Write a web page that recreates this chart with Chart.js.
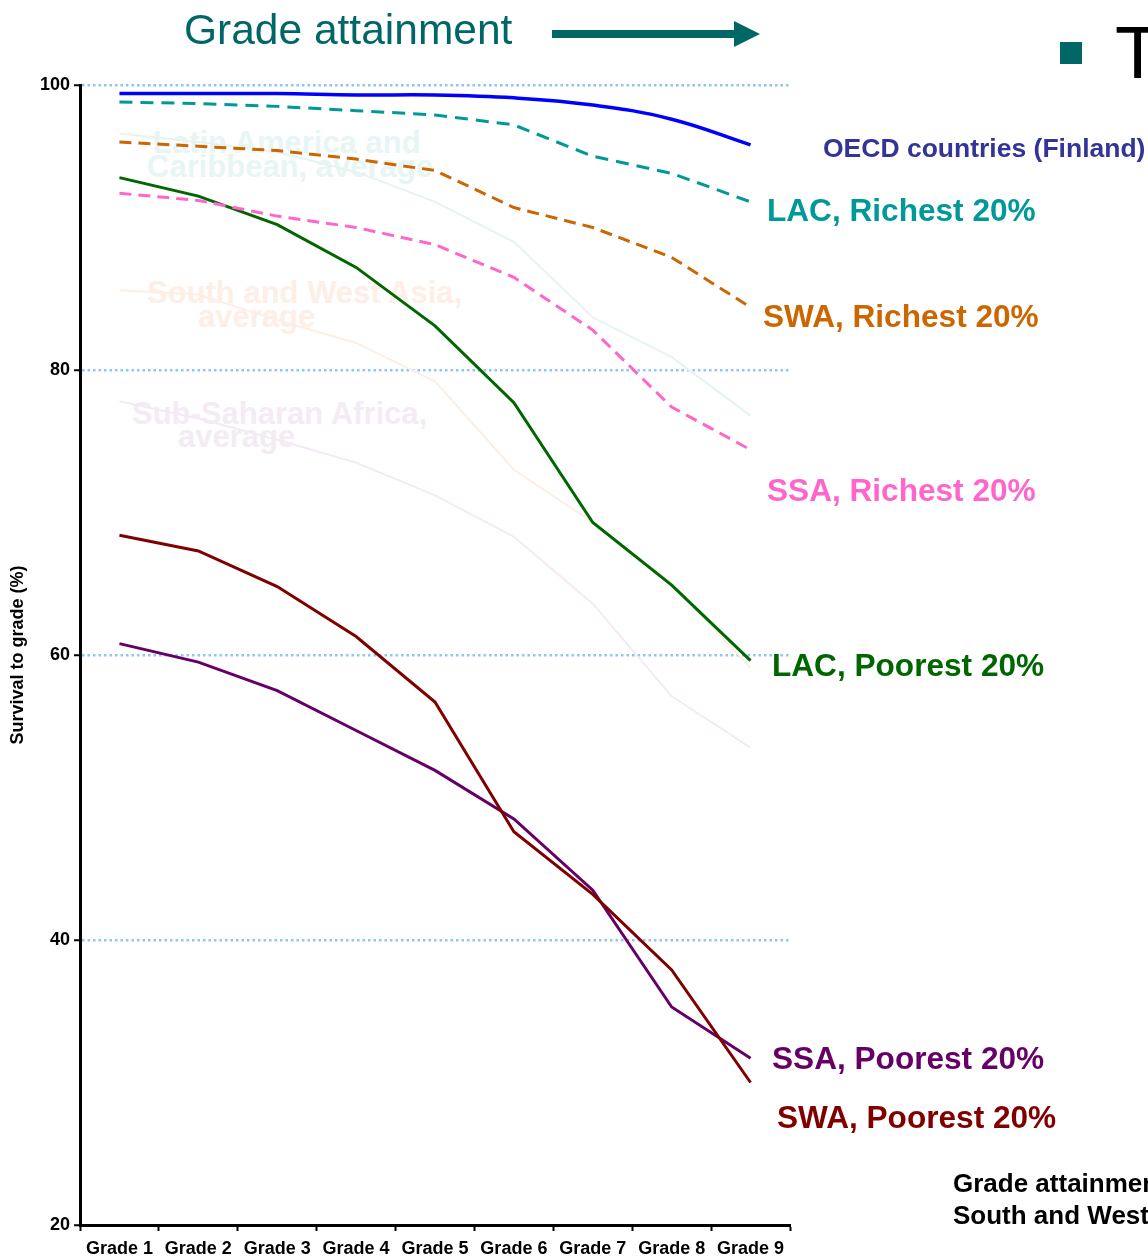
<!DOCTYPE html>
<html>
<head>
<meta charset="utf-8">
<script src="https://cdn.jsdelivr.net/npm/chart.js@4/dist/chart.umd.min.js"></script>
<style>
  body { margin: 0; background: #fff; overflow: hidden; }
  #wrap { position: relative; width: 1148px; height: 1260px; overflow: hidden; font-family: "Liberation Sans", Arial, sans-serif; }
  #chart { position: absolute; left: 0; top: 0; z-index: 2; }
  .lbl { position: absolute; white-space: nowrap; line-height: 1; font-weight: bold; }
  .back { z-index: 1; font-size: 31px; }
  .front { z-index: 3; font-size: 31.6px; }
</style>
</head>
<body>
<div id="wrap">
  <!-- faint average labels sit behind the canvas -->
  <div class="lbl back" style="left:153px;top:127px;color:#e8f5f5">Latin America and</div>
  <div class="lbl back" style="left:147px;top:151px;color:#e8f5f5">Caribbean, average</div>
  <div class="lbl back" style="left:147px;top:277px;color:#fdeee6">South and West Asia,</div>
  <div class="lbl back" style="left:198px;top:301px;color:#fdeee6">average</div>
  <div class="lbl back" style="left:132px;top:398px;color:#f5ebf5">Sub-Saharan Africa,</div>
  <div class="lbl back" style="left:178px;top:421px;color:#f5ebf5">average</div>

  <canvas id="chart" width="1148" height="1260"></canvas>

  <!-- heading and arrow -->
  <div class="lbl" style="z-index:3;left:184px;top:9px;font-size:42.5px;font-weight:normal;color:#006666">Grade attainment</div>
  <svg style="position:absolute;left:540px;top:15px;z-index:3" width="230" height="40">
    <rect x="12" y="15" width="186" height="8" fill="#006666"></rect>
    <polygon points="194,6 220,19 194,32" fill="#006666"></polygon>
  </svg>
  <div style="position:absolute;left:1060px;top:42px;width:22px;height:22px;background:#006666;z-index:3"></div>
  <div class="lbl" style="z-index:3;left:1115px;top:16px;font-size:74px;font-weight:normal;color:#000">T</div>

  <!-- series labels -->
  <div class="lbl front" style="left:823px;top:135px;font-size:26.5px;color:#333399">OECD countries (Finland)</div>
  <div class="lbl front" style="left:767px;top:195px;color:#009999">LAC, Richest 20%</div>
  <div class="lbl front" style="left:763px;top:301px;color:#cc6600">SWA, Richest 20%</div>
  <div class="lbl front" style="left:767px;top:475px;color:#ff66cc">SSA, Richest 20%</div>
  <div class="lbl front" style="left:772px;top:650px;color:#006600">LAC, Poorest 20%</div>
  <div class="lbl front" style="left:772px;top:1043px;color:#660066">SSA, Poorest 20%</div>
  <div class="lbl front" style="left:777px;top:1102px;color:#800000">SWA, Poorest 20%</div>

  <div class="lbl front" style="left:953px;top:1170px;font-size:26px;color:#000">Grade attainment</div>
  <div class="lbl front" style="left:953px;top:1202px;font-size:26px;color:#000">South and West Asia</div>
</div>

<script>
// categories
const grades = ['Grade 1', 'Grade 2', 'Grade 3', 'Grade 4', 'Grade 5', 'Grade 6', 'Grade 7', 'Grade 8', 'Grade 9'];
const yTicks = [20, 40, 60, 80, 100];

// survival to grade (%)
const oecdFinland = [99.4, 99.4, 99.4, 99.3, 99.3, 99.1, 98.6, 97.6, 95.8];
const lacRichest  = [98.8, 98.7, 98.5, 98.2, 97.9, 97.2, 95.0, 93.8, 91.8];
const swaRichest  = [96.0, 95.7, 95.4, 94.8, 94.0, 91.4, 90.0, 87.9, 84.4];
const ssaRichest  = [92.4, 91.9, 90.8, 90.0, 88.8, 86.5, 82.8, 77.4, 74.4];
const lacPoorest  = [93.5, 92.2, 90.2, 87.2, 83.1, 77.7, 69.3, 64.9, 59.6];
const swaPoorest  = [68.4, 67.3, 64.8, 61.3, 56.7, 47.6, 43.2, 37.9, 30.0];
const ssaPoorest  = [60.8, 59.5, 57.5, 54.7, 51.9, 48.5, 43.5, 35.3, 31.7];

// faded regional averages
const lacAverage  = [96.6, 96.0, 95.3, 93.9, 91.8, 89.0, 83.7, 80.9, 76.8];
const swaAverage  = [85.6, 85.3, 83.5, 81.9, 79.2, 73.0, 69.3, 65.0, 59.1];
const ssaAverage  = [77.8, 76.6, 75.1, 73.5, 71.2, 68.3, 63.6, 57.1, 53.5];

function line(data, color, width, dash, extra) {
    return Object.assign({
        data: data,
        borderColor: color,
        borderWidth: width,
        borderDash: dash || [],
        pointRadius: 0,
        fill: false,
        tension: 0,
        order: 1
    }, extra || {});
}

const boldFont = { family: '"Liberation Sans", Arial, sans-serif', weight: 'bold', size: 18 };

new Chart(document.getElementById('chart'), {
    type: 'line',
    data: {
        labels: grades,
        datasets: [
            line(lacAverage, '#e6f3f3', 2, null, { order: 2 }),
            line(swaAverage, '#fdeee4', 2, null, { order: 2 }),
            line(ssaAverage, '#f4e9f4', 2, null, { order: 2 }),
            line(oecdFinland, '#0000ff', 3.5, null, { tension: 0.4 }),
            line(lacRichest, '#009999', 3, [13, 8]),
            line(swaRichest, '#cc6600', 3, [12, 7]),
            line(ssaRichest, '#ff66cc', 3, [12, 7]),
            line(lacPoorest, '#006600', 3),
            line(swaPoorest, '#800000', 3),
            line(ssaPoorest, '#660066', 3)
        ]
    },
    options: {
        responsive: false,
        animation: false,
        layout: { padding: { left: 0, right: 358, top: 85, bottom: 0 } },
        plugins: { legend: { display: false }, tooltip: { enabled: false } },
        scales: {
            x: {
                offset: true,
                grid: { offset: true, drawOnChartArea: false, drawTicks: true, tickLength: 6, tickColor: '#000', tickWidth: 2 },
                border: { display: true, color: '#000', width: 3 },
                ticks: { color: '#000', font: boldFont, padding: 7, maxRotation: 0, autoSkip: false },
                afterFit: (s) => { s.height = 35; }
            },
            y: {
                min: 20,
                max: 100,
                afterBuildTicks: (s) => { s.ticks = yTicks.map(v => ({ value: v })); },
                grid: { color: '#8cc4fb', lineWidth: 2.5, tickLength: 6, tickColor: '#000', tickWidth: 2 },
                border: { display: true, color: '#000', width: 3, dash: [2.5, 3] },
                ticks: { color: '#000', font: boldFont, padding: 4 },
                title: { display: true, text: 'Survival to grade (%)', color: '#000', font: boldFont, padding: { top: 7, bottom: 0 } },
                afterFit: (s) => { s.width = 80; }
            }
        }
    }
});
</script>
</body>
</html>
